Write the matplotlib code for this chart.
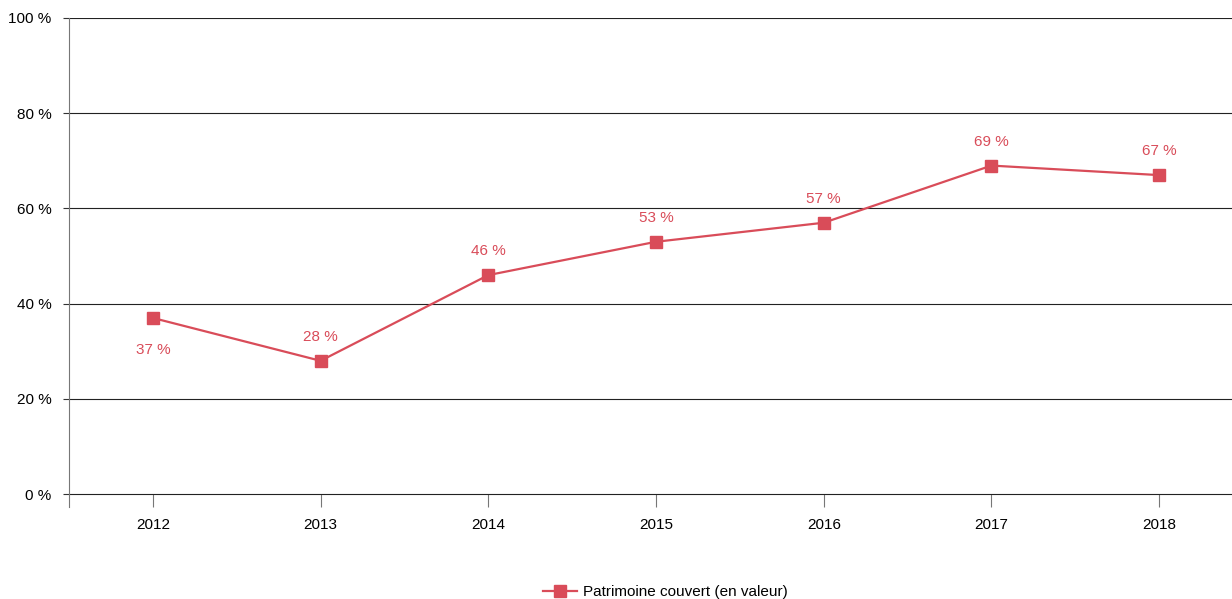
import matplotlib.pyplot as plt
from matplotlib import font_manager

years = ['2012', '2013', '2014', '2015', '2016', '2017', '2018']
couvert = [37, 28, 46, 53, 57, 69, 67]
label_below = [True, False, False, False, False, False, False]
yticks = [0, 20, 40, 60, 80, 100]

names = {f.name for f in font_manager.fontManager.ttflist}
fam = ['Liberation Sans Narrow'] if 'Liberation Sans Narrow' in names else ['Liberation Sans']
plt.rcParams['font.family'] = fam + ['DejaVu Sans']

red = '#d94c59'
fig = plt.figure(figsize=(12.32, 5.99), dpi=100)
# axes run a bit past the right edge of the figure, as in the original
ax = fig.add_axes([0.056, 0.1536, 0.953, 0.8164])

x = range(len(years))
ax.plot(x, couvert, color=red, lw=1.6, marker='s', ms=8.5,
        label='Patrimoine couvert (en valeur)', zorder=3)
for i, v in enumerate(couvert):
    dy = -23 if label_below[i] else 17
    ax.annotate(f'{v} %', (i, v), xytext=(0, dy), textcoords='offset points',
                ha='center', va='center', color=red, fontsize=11)

ax.set_xlim(-0.5, len(years) - 0.5)
ax.set_ylim(-2.7, 100)
ax.set_yticks(yticks)
ax.set_yticklabels([f'{t} %' for t in yticks])
ax.set_xticks(list(x))
ax.set_xticklabels(years)
ax.grid(axis='y', color='#222222', lw=0.8)
ax.set_axisbelow(True)
for s in ['top', 'right', 'bottom']:
    ax.spines[s].set_visible(False)
ax.spines['left'].set_color('#777777')
ax.tick_params(axis='y', length=4.5, color='#333333', labelsize=11, pad=8)
ax.tick_params(axis='x', direction='in', length=9.5, color='#777777',
               labelsize=11, pad=8)

fig.legend(loc='center', bbox_to_anchor=(0.54, 0.011), frameon=False,
           fontsize=11, handlelength=2.2, handletextpad=0.4, borderpad=0)
fig.savefig('out.png', dpi=100)
